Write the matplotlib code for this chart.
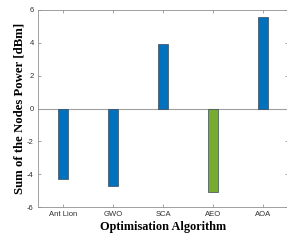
import matplotlib
matplotlib.use("Agg")
import matplotlib.pyplot as plt
import numpy as np

algorithms = ["Ant Lion", "GWO", "SCA", "AEO", "AOA"]
power_dbm = [-4.28, -4.7, 3.95, -5.1, 5.6]
bar_colors = ["#0072BD", "#0072BD", "#0072BD", "#77AC30", "#0072BD"]

fig = plt.figure(figsize=(2.87, 2.40), dpi=100)
ax = fig.add_axes([38 / 287, 33 / 240, 250 / 287, 197 / 240])

x = np.arange(1, len(algorithms) + 1)
ax.bar(x, power_dbm, width=0.2, color=bar_colors,
       edgecolor="#3a4a5a", linewidth=0.5, zorder=3)
ax.axhline(0, color="#a0a0a0", linewidth=0.8, zorder=2)

ax.set_xlim(0.5, 5.5)
ax.set_ylim(-6, 6)
ax.set_xticks(x)
ax.set_xticklabels(algorithms, fontname="Liberation Sans", fontsize=5.5,
                   color="#303030")
ax.set_yticks(np.arange(-6, 7, 2))
ax.set_yticklabels([str(v) for v in range(-6, 7, 2)],
                   fontname="Liberation Sans", fontsize=5.5, color="#303030")
ax.tick_params(direction="in", length=2, width=0.5, color="#808080",
               top=True, right=True, pad=3)
for s in ax.spines.values():
    s.set_color("#909090")
    s.set_linewidth(0.6)

ax.set_xlabel("Optimisation Algorithm", fontname="Liberation Serif",
              fontweight="bold", fontsize=8.8, labelpad=2)
ax.set_ylabel("Sum of the Nodes Power [dBm]", fontname="Liberation Serif",
              fontweight="bold", fontsize=9.2, labelpad=1)

fig.savefig("out.png", dpi=100)
